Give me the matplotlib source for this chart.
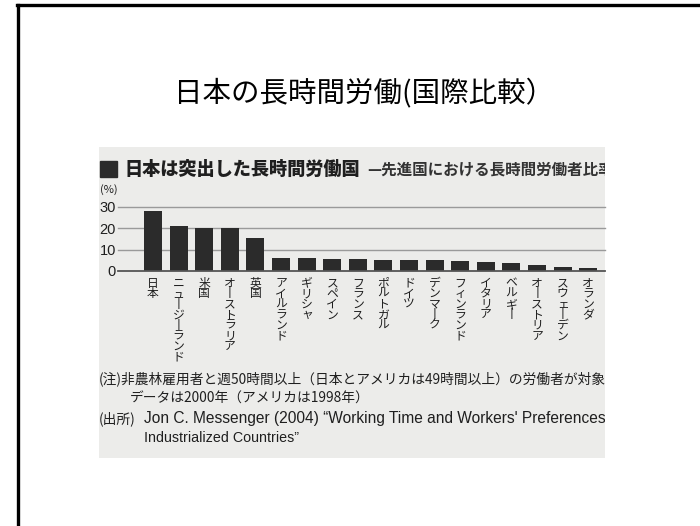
import matplotlib
matplotlib.use("Agg")
import matplotlib.pyplot as plt
from matplotlib.patches import Rectangle

plt.rcParams['font.family'] = ['Noto Sans CJK JP', 'DejaVu Sans']

# ---------------- data ----------------
countries = ["日本", "ニュージーランド", "米国", "オーストラリア", "英国",
             "アイルランド", "ギリシャ", "スペイン", "フランス", "ポルトガル",
             "ドイツ", "デンマーク", "フィンランド", "イタリア", "ベルギー",
             "オーストリア", "スウェーデン", "オランダ"]
values = [28.1, 21.3, 20.0, 20.0, 15.5, 6.2, 6.2, 5.8, 5.7, 5.3,
          5.3, 5.1, 4.5, 4.2, 3.8, 2.6, 1.9, 1.4]
yticks = [0, 10, 20, 30]

slide_title = "日本の長時間労働(国際比較）"
chart_title = "日本は突出した長時間労働国"
chart_subtitle = "—先進国における長時間労働者比率"
unit_label = "(%)"
note_lines = ["(注)非農林雇用者と週50時間以上（日本とアメリカは49時間以上）の労働者が対象。",
              "データは2000年（アメリカは1998年）"]
source_lines = ["(出所)", "Jon C. Messenger (2004) “Working Time and Workers' Preferences in",
                "Industrialized Countries”"]

W, H = 700, 526
fig = plt.figure(figsize=(7.0, 5.26), dpi=100)
fig.patch.set_facecolor("white")

def fx(px):
    return px / W

def fy(py):
    return 1 - py / H

# slide border (left and top edges)
fig.add_artist(plt.Line2D([fx(18), fx(18)], [fy(5), 0], transform=fig.transFigure,
                          color="black", lw=2.4))
fig.add_artist(plt.Line2D([fx(17), 1], [fy(5), fy(5)], transform=fig.transFigure,
                          color="black", lw=2.4))

# slide title
fig.text(fx(364), fy(94), slide_title, ha="center", va="center", fontsize=20.5,
         color="black")

# scanned figure region
sx0, sx1, sy0, sy1 = 99, 605, 147, 458
scan = fig.add_axes([fx(sx0), fy(sy1), fx(sx1 - sx0), (sy1 - sy0) / H])
scan.set_facecolor("#ececea")
scan.set_xticks([]); scan.set_yticks([])
for s in scan.spines.values():
    s.set_visible(False)

txtc = "#1f1f1f"

def stext(px, py, s, **kw):
    t = fig.text(fx(px), fy(py), s, transform=fig.transFigure, color=kw.pop("color", txtc), **kw)
    t.set_clip_on(True)
    t.set_clip_box(scan.bbox)
    return t

# header square
fig.add_artist(Rectangle((fx(100), fy(177)), fx(17), (177 - 161) / H,
                         transform=fig.transFigure, color="#2b2b2b"))
stext(124, 169, chart_title, ha="left", va="center", fontsize=13.1, fontweight="heavy")
stext(367, 170, chart_subtitle, ha="left", va="center", fontsize=11.2,
      fontweight="bold", color="#333333")
stext(100, 190, unit_label, ha="left", va="center", fontsize=8)

# notes
stext(99, 379, note_lines[0], ha="left", va="center", fontsize=9.9)
stext(130, 399, note_lines[1], ha="left", va="center", fontsize=9.9)
stext(99, 419, source_lines[0], ha="left", va="center", fontsize=9.9)
stext(144, 419, source_lines[1], ha="left", va="center", fontsize=11.2,
      family=["Liberation Sans", "Noto Sans CJK JP"])
stext(144, 438, source_lines[2], ha="left", va="center", fontsize=10.3,
      family=["Liberation Sans", "Noto Sans CJK JP"])

# bar chart axes
ax_l, ax_r, y0_px, y30_px = 118, 605, 271, 207
ax = fig.add_axes([fx(ax_l), fy(y0_px), fx(ax_r - ax_l), (y0_px - y30_px) / H])
ax.patch.set_alpha(0)
x = list(range(len(countries)))
pitch = 25.6
first_c = 153
ax.set_xlim((ax_l - first_c) / pitch, (ax_r - first_c) / pitch)
ax.set_ylim(0, 30)
for yv in yticks[1:]:
    ax.axhline(yv, color="#9a9a9a", lw=1.0, zorder=1, clip_on=False)
ax.axhline(0, color="#555555", lw=1.3, zorder=3, clip_on=False)
ax.bar(x, values, width=0.70, color="#2b2b2b", zorder=2)
for s in ax.spines.values():
    s.set_visible(False)
ax.set_yticks(yticks)
ax.set_yticklabels([str(v) for v in yticks], fontsize=10.5,
                   family=["Liberation Sans Narrow", "Liberation Sans"], color=txtc)
vert = ["\n".join(c.replace("ー", "丨") for c in name) for name in countries]
ax.set_xticks(x)
ax.set_xticklabels(vert, fontsize=8.5, linespacing=0.76, va="top", color=txtc)
ax.tick_params(axis="both", length=0)
ax.tick_params(axis="y", pad=1.5)
ax.tick_params(axis="x", pad=4)

fig.savefig("out.png", dpi=100)
